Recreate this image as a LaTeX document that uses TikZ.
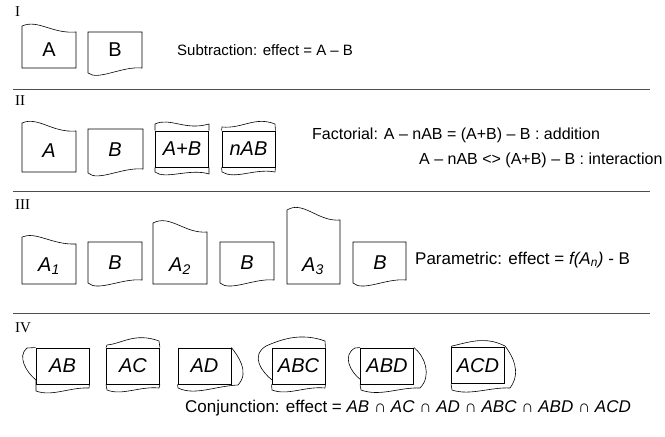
\documentclass[tikz,border=0pt]{standalone}
\usepackage{fontspec}
\setmainfont{Liberation Sans}
\newfontfamily\romanfont{Liberation Serif}
\usetikzlibrary{positioning}
\usepackage{xcolor}
\definecolor{rulegray}{HTML}{4D4D4D}

\begin{document}
\begin{tikzpicture}[
    x=1pt, y=-1pt,
    sheet/.style={draw, line width=0.6pt},
    wave/.style={draw, line width=0.6pt},
    frame/.style={draw, line width=0.9pt, minimum width=53pt, minimum height=36pt, inner sep=0pt, font=\fontsize{20}{22}\selectfont\itshape},
    letter/.style={inner sep=0pt, font=\fontsize{20}{22}\selectfont},
    slanted/.style={letter, font=\fontsize{20}{22}\selectfont\itshape},
    desc/.style={anchor=west, inner sep=0pt, font=\fontsize{16}{18}\selectfont},
    numeral/.style={anchor=west, inner sep=0pt, font=\fontsize{15}{17}\romanfont},
    rule/.style={line width=1pt, color=rulegray},
]
\useasboundingbox (0,0) rectangle (665,437);
\clip (0,0) rectangle (665,437);

% Section I
\node[numeral] (num1) at (15,12) {I};
\draw[sheet] (22,68) -- (22,26) .. controls (38,19) and (52,34) .. (76,32) -- (76,68) -- cycle;
\node[letter] (a1) at (49,50) {A};
\draw[sheet] (88,73) -- (88,32) -- (142,32) -- (142,68) .. controls (122,66) and (98,81) .. (88,73) -- cycle;
\node[letter] (b1) at (115,50) {B};
\node[desc, font=\fontsize{15}{18}\selectfont] (subtraction) at (177,50) {Subtraction: effect = A – B};

\draw[rule] (13,89) -- (650,89);

% Section II
\node[numeral] (num2) at (15,101) {II};
\draw[sheet] (22,172) -- (22,123) .. controls (38,116) and (52,133) .. (76,131) -- (76,172) -- cycle;
\node[slanted] (a2) at (49,151) {A};
\draw[sheet] (88,173) -- (88,129) -- (143,129) -- (143,169) .. controls (122,167) and (98,182) .. (88,173) -- cycle;
\node[slanted] (b2) at (115,150) {B};

\node[frame] (apb) at (182,149) {A+B};
\draw[wave] (apb.north west) -- (155,124) .. controls (170,117) and (185,131) .. (209,124) -- (apb.north east);
\draw[wave] (apb.south west) -- (155,172) .. controls (165,180) and (190,168) .. (209,174) -- (apb.south east);

\node[frame] (nab) at (248.5,149) {nAB};
\draw[wave] (nab.north west) -- (222,127) .. controls (242,129) and (255,116) .. (275,124) -- (nab.north east);
\draw[wave] (nab.south west) -- (222,172) .. controls (235,180) and (255,168) .. (275,172) -- (nab.south east);

\node[desc] (factorial) at (312,135) {Factorial: A – nAB = (A+B) – B : addition};
\node[desc] (interaction) at (419,160) {A – nAB <> (A+B) – B : interaction};

\draw[rule] (13,191) -- (650,191);

% Section III
\node[numeral] (num3) at (15,205) {III};
\draw[sheet] (22,284) -- (22,237) .. controls (36,231) and (52,245) .. (76,244) -- (76,284) -- cycle;
\node[slanted] (an1) at (49,266) {A\textsubscript{1}};
\draw[sheet] (88,283) -- (88,242) -- (142,242) -- (142,280) .. controls (122,278) and (98,292) .. (88,283) -- cycle;
\node[slanted] (b3) at (115,263) {B};
\draw[sheet] (153,284) -- (153,223) .. controls (170,214) and (185,234) .. (207,232) -- (207,284) -- cycle;
\node[slanted] (an2) at (180,266) {A\textsubscript{2}};
\draw[sheet] (220,283) -- (220,242) -- (274,242) -- (274,280) .. controls (254,278) and (230,292) .. (220,283) -- cycle;
\node[slanted] (b4) at (247,263) {B};
\draw[sheet] (287,284) -- (287,210) .. controls (303,200) and (318,222) .. (340,220) -- (340,284) -- cycle;
\node[slanted] (an3) at (313,266) {A\textsubscript{3}};
\draw[sheet] (353,283) -- (353,242) -- (406,242) -- (406,280) .. controls (386,278) and (363,292) .. (353,283) -- cycle;
\node[slanted] (b5) at (380,263) {B};
\node[desc, font=\fontsize{17}{19}\selectfont] (parametric) at (415,260) {Parametric: effect = \textit{f(A\textsubscript{n})} - B};

\draw[rule] (13,313) -- (650,313);

% Section IV
\node[numeral] (num4) at (15,328) {IV};
\node[frame] (ab) at (62.5,366) {AB};
\draw[wave] (ab.north west) -- (27,348) .. controls (17,356) and (26,372) .. (36,380) -- (36,391)
    .. controls (52,397) and (70,387) .. (89,388) -- (ab.south east);

\node[frame] (ac) at (133,366) {AC};
\draw[wave] (ac.north west) -- (107,345) .. controls (121,344) and (135,332) .. (159,341) -- (ac.north east);
\draw[wave] (ac.south west) -- (107,390) .. controls (122,396) and (140,386) .. (159,388) -- (ac.south east);

\node[frame] (ad) at (204.5,366) {AD};
\draw[wave] (ad.north east) .. controls (238,356) and (250,372) .. (238,385)
    .. controls (215,386) and (195,396) .. (178,388) -- (ad.south west);

\node[frame] (abc) at (298.5,366) {ABC};
\draw[wave] (272,380) .. controls (262,372) and (250,356) .. (266,346)
    .. controls (280,340) and (300,332) .. (325,341) -- (abc.north east);
\draw[wave] (abc.south west) -- (272,390) .. controls (288,396) and (305,386) .. (325,388) -- (abc.south east);

\node[frame] (abd) at (387,366) {ABD};
\draw[wave] (361,380) .. controls (350,372) and (342,355) .. (355,348) -- (abd.north west);
\draw[wave] (abd.north east) .. controls (425,356) and (432,376) .. (420,388)
    .. controls (400,387) and (380,397) .. (361,390) -- (abd.south west);

\node[frame] (acd) at (478,365.5) {ACD};
\draw[wave] (acd.north west) -- (452,346) .. controls (470,342) and (485,336) .. (505,346)
    .. controls (512,355) and (522,372) .. (510,388)
    .. controls (490,387) and (470,396) .. (452,390) -- (acd.south west);

\node[desc, font=\fontsize{17}{19}\selectfont] (conjunction) at (185,408) {Conjunction: effect = \textit{AB} ∩ \textit{AC} ∩ \textit{AD} ∩ \textit{ABC} ∩ \textit{ABD} ∩ \textit{ACD}};

\end{tikzpicture}
\end{document}
